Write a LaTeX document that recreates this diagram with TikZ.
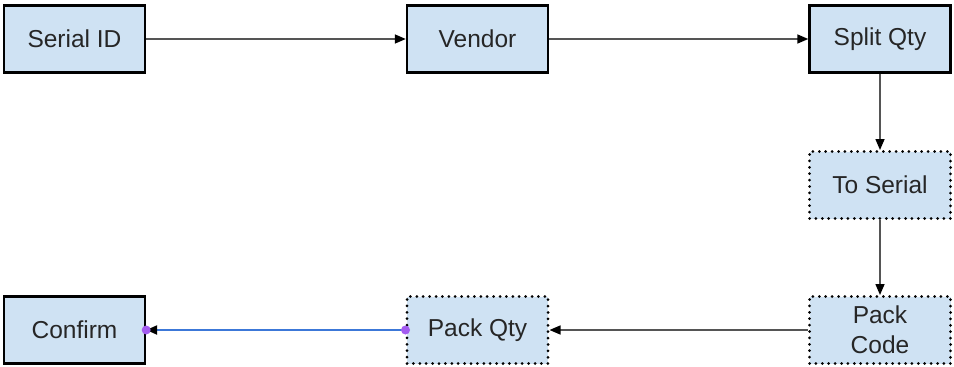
\documentclass[tikz,border=0pt]{standalone}
\usepackage{fontspec}
\setmainfont{Liberation Sans}
\usetikzlibrary{arrows.meta}
\definecolor{boxfill}{HTML}{CFE2F3}
\definecolor{linegray}{HTML}{555555}
\definecolor{selblue}{HTML}{3C78D8}
\definecolor{handle}{HTML}{A35CF0}
\tikzset{
  solidbox/.style={draw=black, line width=2.4pt, fill=boxfill, minimum width=141pt, minimum height=67pt, inner sep=0pt, align=center, font=\fontsize{24.5}{30}\selectfont, text=black!85},
  dotbox/.style={solidbox, line width=3pt, line cap=round, dash pattern=on 0pt off 6.4pt},
  conn/.style={draw=linegray, line width=1.5pt, -{Triangle[length=11pt,width=9pt,color=black]}},
  selconn/.style={draw=selblue, line width=2.2pt, -{Triangle[length=11pt,width=9pt,color=black]}},
  handledot/.style={circle, fill=handle, inner sep=0pt, minimum size=9pt}
}
\begin{document}
\begin{tikzpicture}[x=1pt,y=-1pt]
\useasboundingbox (0,0) rectangle (954,367);
\node[solidbox] (serial) at (74.5,39) {Serial ID};
\node[solidbox] (vendor) at (477.5,39) {Vendor};
\node[solidbox] (split) at (880,39) {Split Qty};
\node[dotbox] (toserial) at (880,185) {To Serial};
\node[dotbox] (packcode) at (880,330) {Pack\\Code};
\node[dotbox] (packqty) at (477.5,330) {Pack Qty};
\node[solidbox] (confirm) at (74.5,330) {Confirm};
\draw[conn] (serial.east) -- (vendor.west);
\draw[conn] (vendor.east) -- (split.west);
\draw[conn] (split.south) -- (toserial.north);
\draw[conn] (toserial.south) -- (packcode.north);
\draw[conn] (packcode.west) -- (packqty.east);
\draw[selconn] (packqty.west) -- (confirm.east);
\node[handledot] (h1) at (packqty.west) {};
\node[handledot] (h2) at (confirm.east) {};
\end{tikzpicture}
\end{document}
